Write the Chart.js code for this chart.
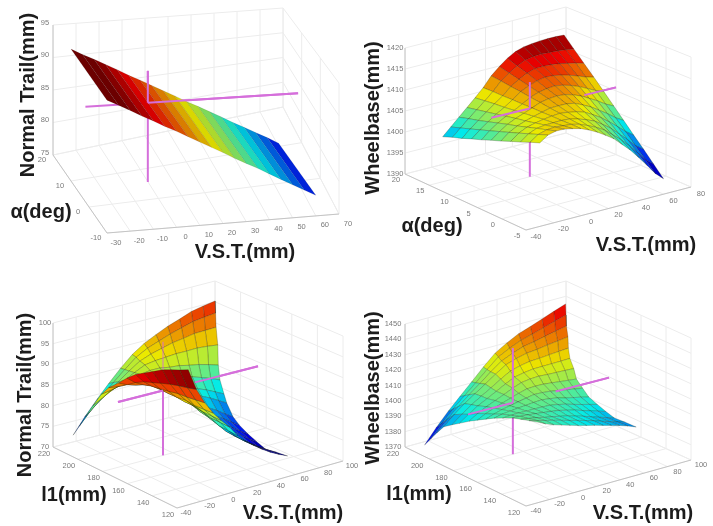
<!DOCTYPE html>
<html><head><meta charset="utf-8">
<style>html,body{margin:0;padding:0;background:#fff}#w{position:relative;width:713px;height:526px}canvas{filter:blur(0.65px)}</style>
<script src="https://cdn.jsdelivr.net/npm/chart.js@4"></script></head>
<body><div id="w"><canvas id="c" width="713" height="526"></canvas></div>
<script>
// ---- data ----
const vstTicks1=[-30,-20,-10,0,10,20,30,40,50,60,70];
const alphaTicks1=[-10,0,10,20];
const trailTicks1=[75,80,85,90,95];
const vstTicks2=[-40,-20,0,20,40,60,80];
const alphaTicks2=[-5,0,5,10,15,20];
const wheelTicks2=[1390,1395,1400,1405,1410,1415,1420];
const vstTicks3=[-40,-20,0,20,40,60,80,100];
const l1Ticks=[120,140,160,180,200,220];
const trailTicks3=[70,75,80,85,90,95,100];
const wheelTicks4=[1370,1380,1390,1400,1410,1420,1430,1440,1450];

const vstGrid1=[-30,-25,-20,-15,-10,-5,0,5,10,15,20,25,30,35,40,45,50,55,60];
const alphaGrid1=[10,-10];
const trailBack1=[94.3,93.4,92.6,91.7,90.8,89.8,88.9,87.9,86.9,85.9,84.8,83.8,82.7,81.6,80.4,79.3,78.1,76.9,75.6];
const trailFront1=[92.7,92.0,91.3,90.5,89.8,89.0,88.3,87.5,86.7,85.9,85.1,84.2,83.4,82.6,81.7,80.8,79.9,79.0,78.1];

const vstGrid2=[-30,-24,-18,-12,-6,0,6,12,18,24,30,36,42,48,54,60];
const alphaGrid2=[15,13,11,9,7,5,3,1,-1,-3,-5];
const wheelByVst2=[
[1400.5,1401.3,1402,1402.8,1403.5,1404.3,1405,1405.8,1406.5,1407.3,1408],
[1402.3,1403,1403.7,1404.4,1405.1,1405.8,1406.5,1407.2,1407.9,1408.6,1409.3],
[1404.1,1404.7,1405.2,1405.8,1406.4,1407,1407.5,1408.1,1408.7,1409.2,1409.8],
[1405.9,1406.3,1406.7,1407.1,1407.5,1407.9,1408.2,1408.6,1409,1409.4,1409.8],
[1407.7,1407.9,1408.1,1408.2,1408.4,1408.6,1408.8,1409,1409.1,1409.3,1409.5],
[1409.6,1409.6,1409.5,1409.5,1409.4,1409.4,1409.3,1409.3,1409.2,1409.2,1409.1],
[1411.9,1411.6,1411.2,1410.9,1410.5,1410.2,1409.8,1409.5,1409.1,1408.8,1408.4],
[1413.6,1413,1412.4,1411.8,1411.2,1410.6,1409.9,1409.3,1408.7,1408.1,1407.5],
[1415.1,1414.2,1413.4,1412.5,1411.6,1410.8,1409.9,1409,1408.1,1407.3,1406.4],
[1416.2,1415.1,1414,1412.9,1411.8,1410.7,1409.6,1408.5,1407.4,1406.3,1405.2],
[1416.8,1415.5,1414.1,1412.8,1411.5,1410.2,1408.8,1407.5,1406.2,1404.8,1403.5],
[1417.1,1415.6,1414,1412.5,1411,1409.5,1407.9,1406.4,1404.9,1403.3,1401.8],
[1417.3,1415.5,1413.8,1412,1410.3,1408.5,1406.7,1405,1403.2,1401.5,1399.7],
[1417.4,1415.4,1413.4,1411.4,1409.4,1407.5,1405.5,1403.5,1401.5,1399.5,1397.5],
[1417.4,1415.2,1413,1410.7,1408.5,1406.3,1404.1,1401.9,1399.6,1397.4,1395.2],
[1417.3,1414.9,1412.5,1410.2,1407.8,1405.4,1403,1400.6,1398.3,1395.9,1393.5]];

const l1Grid=[200,195,190,185,180,175,170,165,160,155,150,145,140,135,130];
const vstLow=[-44,-44,-44,-43,-41,-40,-37,-35,-33,-31,-29,-26,-24,-22,-20];
const vstHigh=[78,73,68,64,59,55,53,50,50,50,52,54,56,60,64];
const trailByL1=[
[76,79.7,83,86.1,89,91.6,93.5,94.9,96.2,97.2,98.3,98.9,99.4],
[78.8,81.8,84.5,87.1,89.5,91.7,93.2,94.2,95.2,96,96.8,97.2,97.5],
[81.7,84,86,88,89.9,91.6,92.6,93.3,94,94.4,94.9,95,95.1],
[84.9,86.3,87.6,88.9,90.2,91.4,91.8,92,92.2,92.2,92.3,92.1,91.8],
[88.1,88.5,89.1,89.7,90.4,90.8,90.8,90.4,90.2,89.7,89.3,88.7,88],
[90.2,89.9,89.9,90,90.2,90.3,89.8,89.1,88.5,87.8,87.1,86.3,85.4],
[91.7,90.8,90.2,89.9,89.7,89.3,88.4,87.5,86.7,85.7,84.9,83.9,82.9],
[93.3,91.8,90.8,90.1,89.6,89,87.8,86.7,85.7,84.7,83.8,82.7,81.6],
[94.6,92.5,91,89.8,88.9,88,86.5,85,83.8,82.6,81.5,80.2,79],
[95.4,92.8,90.9,89.4,88.2,87.2,85.4,83.9,82.7,81.3,80.2,78.9,77.7],
[96.2,93.1,90.8,89,87.5,86.2,84.2,82.6,81.2,79.8,78.6,77.3,76.1],
[97,93.3,90.7,88.7,87,85.3,83.2,81.4,80,78.6,77.3,76,74.8],
[97.5,93.4,90.4,88,86.2,84.3,82.1,80.2,78.7,77.3,76,74.7,73.6],
[97.9,93.4,90.2,87.6,85.6,83.7,81.3,79.5,78,76.6,75.3,74.2,73.2],
[98.4,93.5,90,87.2,85,83,80.5,78.6,77.2,75.8,74.6,73.6,72.7]];
const wheelByL1=[
[1379.6,1388.7,1397,1404.5,1411.9,1419.5,1426.5,1431.1,1435.1,1437.8,1440.8,1443.8,1446.7],
[1385.2,1393.2,1400.5,1407,1413.4,1420,1426.2,1430,1433.2,1435.3,1437.6,1440,1442.2],
[1390.8,1397.7,1403.9,1409.6,1415,1420.6,1425.8,1428.9,1431.5,1432.9,1434.6,1436.2,1437.8],
[1396.3,1402.2,1407.4,1411.9,1416.4,1421.1,1425.4,1427.7,1429.4,1430.2,1431.3,1432.3,1433.3],
[1398.9,1403.9,1408.3,1412.1,1415.8,1419.7,1423.3,1425.1,1426.4,1426.8,1427.5,1428.1,1428.7],
[1401.3,1405.4,1409.2,1412.3,1415.4,1418.6,1421.5,1422.8,1423.7,1423.9,1424.1,1424.3,1424.6],
[1403.7,1407.1,1410,1412.4,1414.8,1417.4,1419.6,1420.5,1420.9,1420.6,1420.5,1420.4,1420.2],
[1405.7,1408.3,1410.5,1412.3,1414.1,1415.9,1417.4,1417.8,1417.8,1417.3,1416.8,1416.3,1415.8],
[1407.6,1409.4,1411,1412.1,1413.3,1414.4,1415.4,1415.3,1414.9,1414.1,1413.3,1412.5,1411.7],
[1409.5,1410.7,1411.4,1412,1412.5,1413.1,1413.5,1413,1412.3,1411,1410,1409,1407.8],
[1410.8,1411.3,1411.5,1411.5,1411.6,1411.6,1411.5,1410.7,1409.7,1408.3,1407,1405.8,1404.5],
[1412,1411.8,1411.5,1411.1,1410.6,1410.1,1409.5,1408.4,1407.3,1405.8,1404.3,1402.9,1401.4],
[1412.5,1411.8,1411.1,1410.1,1409.3,1408.4,1407.5,1406.1,1404.8,1403.2,1401.7,1400.2,1398.7],
[1412.9,1411.8,1410.6,1409.5,1408.3,1407,1405.8,1404.5,1403.1,1401.5,1400,1398.5,1397],
[1413.3,1411,1409.2,1407.8,1406.4,1405,1403.8,1402.6,1401.3,1400,1398.6,1397,1395]];

// crosshair: [vst, side axis, height] ends, and the bits that lie in front of the surface
const crossVst=[[-30,62,-3],[-12,80,16.4],[-26.8,93,11.7],[-27.4,94,11.2]];
const crossSide=[2,10,180,180];
const crossHeight=[88.4,1405.8,85.3,1402.8];
const crossZ=[[76.7,93.1],[1390,1411.9],[70,96.8],[1370,1437.6]];
const frontVstFrom=[-3,56.6,39,48];
const frontZFrom=[88.4,1405.8,90.2,1402.8];
const frontLeft=[false,true,true,true];

// ---- view of each panel (box corners on the page) ----
const views=[
{xs:[53,107,339,283],ys:[155,233,214,107],hs:[130,150,131,99],vst:[-30,70],side:[20,-10],z:[75,95],
 vTicks:vstTicks1,sTicks:alphaTicks1,zTicks:trailTicks1,vOff:[9,9.5],sOff:[-11,4.5],zOff:[-8,-2.5],
 zTitle:'Normal Trail(mm)',zT:[28,95],sTitle:'α(deg)',sT:[41,212],vT:[245,252]},
{xs:[405,526,691,566],ys:[174,230,187,133],hs:[126,140,130,126],vst:[-40,80],side:[20,-5],z:[1390,1420],
 vTicks:vstTicks2,sTicks:alphaTicks2,zTicks:wheelTicks2,vOff:[10,6.5],sOff:[-9,6],zOff:[-10,0],
 zTitle:'Wheelbase(mm)',zT:[373,118],sTitle:'α(deg)',sT:[432,226],vT:[646,245]},
{xs:[53,177,343,215],ys:[447,508,461,406],hs:[124,135,125,125],vst:[-40,100],side:[220,120],z:[70,100],
 vTicks:vstTicks3,sTicks:l1Ticks,zTicks:trailTicks3,vOff:[9,5],sOff:[-9,7],zOff:[-8,0],
 zTitle:'Normal Trail(mm)',zT:[25,395],sTitle:'l1(mm)',sT:[74,495],vT:[293,513]},
{xs:[405,526,691,566],ys:[447,506,460,403],hs:[123,135,122,122],vst:[-40,100],side:[220,120],z:[1370,1450],
 vTicks:vstTicks3,sTicks:l1Ticks,zTicks:wheelTicks4,vOff:[10,5],sOff:[-12,7],zOff:[-12,0],
 zTitle:'Wheelbase(mm)',zT:[373,388],sTitle:'l1(mm)',sT:[419,494],vT:[643,513]}
];
const bil=(q,s,t)=>(1-s)*(1-t)*q[0]+(1-s)*t*q[1]+s*t*q[2]+s*(1-t)*q[3];
const frac=(v,r)=>(v-r[0])/(r[1]-r[0]);
function proj(view,vst,side,z){
  const s=frac(vst,view.vst),t=frac(side,view.side),w=frac(z,view.z);
  return {x:bil(view.xs,s,t),y:bil(view.ys,s,t)-w*bil(view.hs,s,t)};
}
function jet(v,shade){
  v=Math.max(0,Math.min(1,v));
  const cl=a=>Math.round(shade*255*Math.max(0,Math.min(1,a)));
  return `rgb(${cl(Math.min(4*v-1.5,-4*v+4.5))},${cl(Math.min(4*v-.5,-4*v+3.5))},${cl(Math.min(4*v+.5,-4*v+2.5))})`;
}
const lineSets=[];
function seg(pts,color,width){
  lineSets.push({data:pts,showLine:true,fill:false,borderColor:color,borderWidth:width,pointRadius:0,tension:0,clip:false});
}
function frame(view){
  const [v0,v1]=view.vst,[a0,a1]=view.side,[z0,z1]=view.z,g='#ececec',e='#c4c4c4';
  view.vTicks.forEach(v=>{seg([proj(view,v,a0,z0),proj(view,v,a1,z0)],g,1);seg([proj(view,v,a0,z0),proj(view,v,a0,z1)],g,1);});
  view.sTicks.forEach(a=>{seg([proj(view,v0,a,z0),proj(view,v1,a,z0)],g,1);seg([proj(view,v1,a,z0),proj(view,v1,a,z1)],g,1);});
  view.zTicks.forEach(z=>{seg([proj(view,v0,a0,z),proj(view,v1,a0,z)],g,1);seg([proj(view,v1,a0,z),proj(view,v1,a1,z)],g,1);});
  seg([proj(view,v0,a0,z0),proj(view,v0,a1,z0)],e,1);
  seg([proj(view,v0,a1,z0),proj(view,v1,a1,z0)],e,1);
  seg([proj(view,v0,a0,z0),proj(view,v0,a0,z1)],e,1);
}
function cross(view,k,front){
  const P='#d56fdb',[lo,hi,c]=crossVst[k],a=crossSide[k],h=crossHeight[k],[zl,zh]=crossZ[k];
  if(!front){
    seg([proj(view,lo,a,h),proj(view,hi,a,h)],P,2);
    seg([proj(view,c,a,zl),proj(view,c,a,zh)],P,2);
  }else{
    if(frontLeft[k])seg([proj(view,lo,a,h),proj(view,c,a,h)],P,2);
    seg([proj(view,frontVstFrom[k],a,h),proj(view,hi,a,h)],P,2);
    seg([proj(view,c,a,frontZFrom[k]),proj(view,c,a,zh)],k===2?'rgba(213,111,219,.45)':P,2);
  }
}
function surface(view,nodes,colorOf,edge){
  const cells=[];
  for(let j=0;j<nodes.length-1;j++)for(let i=0;i<nodes[0].length-1;i++){
    const q=[nodes[j][i],nodes[j][i+1],nodes[j+1][i+1],nodes[j+1][i]];
    const m=q.reduce((a,n)=>a+n.z,0)/4;
    const d=q.reduce((a,n)=>a+frac(n.a,view.side)-frac(n.v,view.vst),0)/4;
    cells.push({d,ds:{data:[...q,q[0]].map(n=>proj(view,n.v,n.a,n.z)),showLine:true,fill:'shape',
      backgroundColor:colorOf(i,j,m),borderColor:edge,borderWidth:.6,pointRadius:0,tension:0,clip:false}});
  }
  cells.sort((a,b)=>a.d-b.d).forEach(c=>lineSets.push(c.ds));
}
// panel 1
frame(views[0]);cross(views[0],0,false);
surface(views[0],alphaGrid1.map((a,j)=>vstGrid1.map((v,i)=>({v,a,z:(j?trailFront1:trailBack1)[i]}))),
  (i)=>jet(((trailBack1[i]+trailBack1[i+1])/2-73)/(92.7-73),.85),'rgba(0,0,0,.15)');
cross(views[0],0,true);
// panel 2
frame(views[1]);cross(views[1],1,false);
surface(views[1],alphaGrid2.map((a,j)=>vstGrid2.map((v,i)=>({v,a,z:wheelByVst2[i][j]}))),
  (i,j,m)=>jet((m-1393.5)/(1417.6-1393.5),.92),'rgba(20,20,0,.4)');
cross(views[1],1,true);
// panels 3 and 4
const rows=(tbl)=>l1Grid.map((a,j)=>tbl[j].map((z,i)=>({v:vstLow[j]+(vstHigh[j]-vstLow[j])*i/12,a,z})));
frame(views[2]);cross(views[2],2,false);
surface(views[2],rows(trailByL1),(i,j,m)=>jet((m-72.7)/((i/12<j/14?96.5:104)-72.7),.92),'rgba(20,20,0,.4)');
cross(views[2],2,true);
frame(views[3]);cross(views[3],3,false);
surface(views[3],rows(wheelByL1),(i,j,m)=>jet((m-1375)/(1454-1375),.92),'rgba(20,20,0,.35)');
cross(views[3],3,true);

const textPlugin={id:'texts',afterDatasetsDraw(chart){
  const c=chart.ctx,sx=chart.scales.x,sy=chart.scales.y;
  const put=(t,x,y,rot)=>{c.save();c.translate(sx.getPixelForValue(x),sy.getPixelForValue(y));if(rot)c.rotate(rot);c.fillText(t,0,0);c.restore();};
  c.textAlign='center';c.textBaseline='middle';
  views.forEach(view=>{
    const [v0,v1]=view.vst,[a0,a1]=view.side,[z0,z1]=view.z;
    c.font='7.5px "Liberation Sans"';c.fillStyle='#7a7a7a';
    view.vTicks.forEach(v=>{const p=proj(view,v,a1,z0);put(String(v),p.x+view.vOff[0],p.y+view.vOff[1]);});
    view.sTicks.forEach(a=>{const p=proj(view,v0,a,z0);put(String(a),p.x+view.sOff[0],p.y+view.sOff[1]);});
    view.zTicks.forEach(z=>{const p=proj(view,v0,a0,z);put(String(z),p.x+view.zOff[0],p.y+view.zOff[1]);});
    c.font='bold 20px "Liberation Sans"';c.fillStyle='#1c1c1c';
    put('V.S.T.(mm)',view.vT[0],view.vT[1]);
    put(view.sTitle,view.sT[0],view.sT[1]);
    put(view.zTitle,view.zT[0],view.zT[1],-Math.PI/2);
  });
}};
new Chart(document.getElementById('c'),{
  type:'scatter',
  data:{datasets:lineSets.slice().reverse()},
  plugins:[textPlugin],
  options:{responsive:false,animation:false,events:[],parsing:false,normalized:true,
    layout:{padding:0},
    plugins:{legend:{display:false},tooltip:{enabled:false},filler:{propagate:false}},
    scales:{x:{type:'linear',min:0,max:713,display:false},y:{type:'linear',min:0,max:526,reverse:true,display:false}}}
});
</script></body></html>
